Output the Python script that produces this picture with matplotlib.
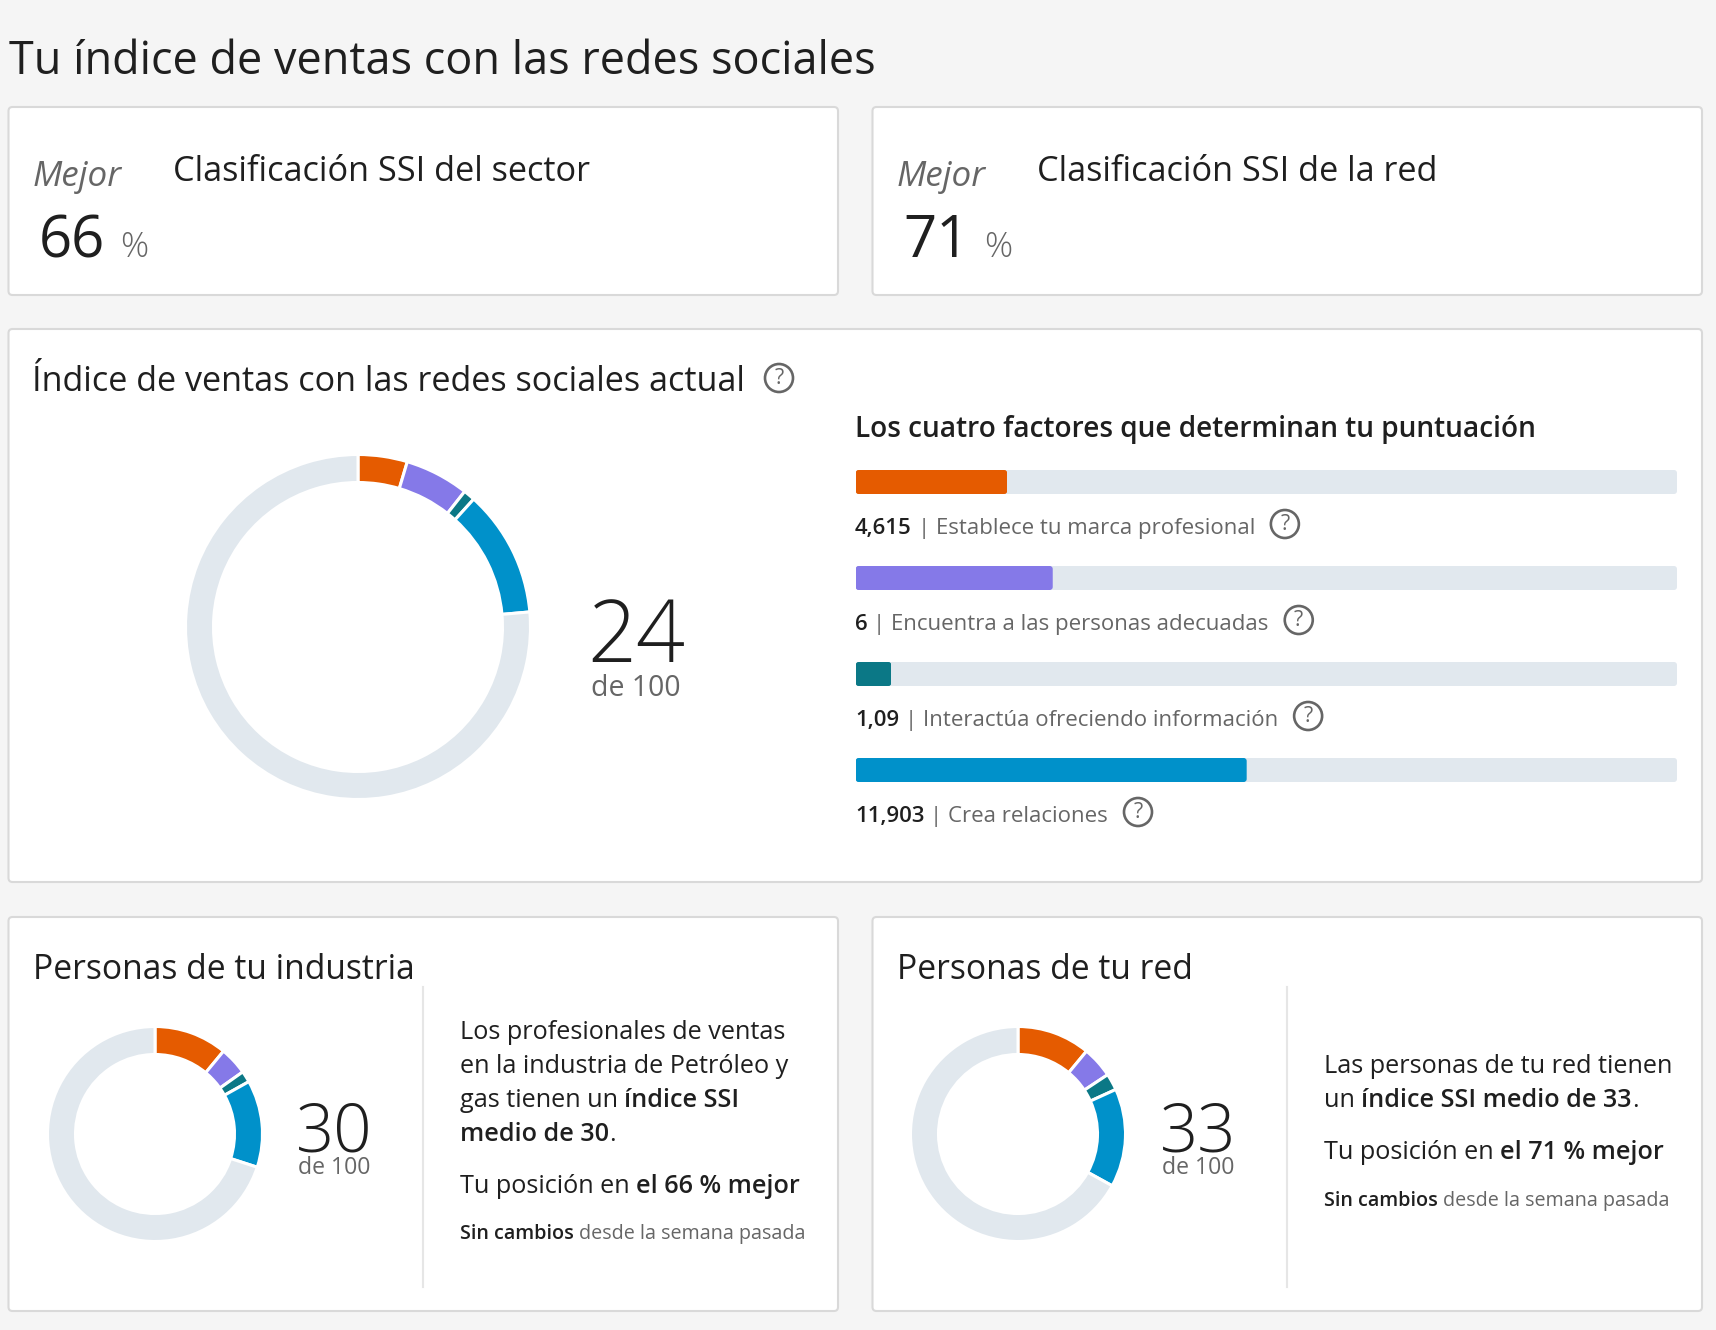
import matplotlib
matplotlib.use("Agg")
import matplotlib.pyplot as plt
from matplotlib.patches import FancyBboxPatch, Circle

W, H = 1716, 1330
FONT = "Open Sans"
BG = "#F5F5F5"
INK = "#1F1F1F"
GREY = "#666666"
TRACK = "#E1E8EE"
COLORS = ["#E55B00", "#8579E8", "#0B7886", "#0091CA"]
SEMI = 600

title = "Tu índice de ventas con las redes sociales"
main_heading = "Índice de ventas con las redes sociales actual"
factors_heading = "Los cuatro factores que determinan tu puntuación"
factor_names = ["Establece tu marca profesional", "Encuentra a las personas adecuadas",
                "Interactúa ofreciendo información", "Crea relaciones"]
factor_labels = ["4,615", "6", "1,09", "11,903"]
factor_values = [4.615, 6, 1.09, 11.903]
factor_max = 25
score_max = 100
main_score = 24
industry_values = [11, 4.2, 1.7, 13.1]
industry_score = 30
network_values = [11, 4.7, 2.5, 14.8]
network_score = 33
rank_sector = 66
rank_network = 71

fig = plt.figure(figsize=(W / 100, H / 100), dpi=100, facecolor=BG)
bg = fig.add_axes([0, 0, 1, 1])
bg.set_xlim(0, W)
bg.set_ylim(H, 0)
bg.axis("off")
renderer = fig.canvas.get_renderer()


def txt(x, y, s, px, color=INK, weight="normal", style="normal", ha="left"):
    return bg.text(x, y, s, fontsize=px * 0.72, color=color, fontweight=weight, fontstyle=style,
                   family=FONT, ha=ha, va="baseline")


def width(s, px, weight):
    t = bg.text(0, 0, "|" + s + "|", fontsize=px * 0.72, fontweight=weight, family=FONT)
    a = t.get_window_extent(renderer).width
    t.set_text("||")
    b = t.get_window_extent(renderer).width
    t.remove()
    return a - b


def rich(x, y, parts, px):
    for s, weight, color in parts:
        lead = len(s) - len(s.lstrip())
        txt(x + (width(s[:lead], px, weight) if lead else 0), y, s.strip(), px, color, weight)
        x += width(s, px, weight)
    return x


def card(x0, y0, x1, y1):
    bg.add_patch(FancyBboxPatch((x0 + 3, y0 + 3), x1 - x0 - 6, y1 - y0 - 6,
                                boxstyle="round,pad=3,rounding_size=4",
                                fc="white", ec="#D9D9D9", lw=1.5))


def help_icon(cx, cy):
    bg.add_patch(Circle((cx, cy), 14, fc="none", ec=GREY, lw=1.9))
    bg.text(cx, cy + 0.5, "?", fontsize=15.5, color=GREY, family=FONT, ha="center", va="center")


def donut(cx, cy, R, ring, values, total):
    R_draw = R + 1.5
    ax = fig.add_axes([(cx - R_draw - 2) / W, 1 - (cy + R_draw + 2) / H,
                       (2 * R_draw + 4) / W, (2 * R_draw + 4) / H])
    rest = total - sum(values)
    ax.pie(list(values) + [rest], colors=COLORS + [TRACK], startangle=90, counterclock=False,
           radius=1, wedgeprops=dict(width=(ring + 3) / R_draw, edgecolor="white", linewidth=2.2))
    m = (R_draw + 2) / R_draw
    ax.set_xlim(-m, m)
    ax.set_ylim(-m, m)
    ax.set_aspect("equal")
    ax.patch.set_visible(False)


# Cards
card(8.5, 107, 838, 295)
card(872.5, 107, 1702, 295)
card(8.5, 329, 1702, 882)
card(8.5, 917, 838, 1311)
card(872.5, 917, 1702, 1311)

txt(9, 74, title, 45)

# Rank cards
for dx, head, rank in [(0, "Clasificación SSI del sector", rank_sector),
                       (864, "Clasificación SSI de la red", rank_network)]:
    txt(33 + dx, 186, "Mejor", 35, GREY, style="italic")
    txt(173 + dx, 181, head, 34.3)
    txt(39 + dx, 257, str(rank), 58, INK, "normal")
    txt(120 + dx, 257, "%", 35, GREY, "light")

# Main card
txt(32, 391, main_heading, 34.1)
help_icon(779, 378)
donut(358, 627, 171, 25, factor_values, score_max)
txt(636, 662, str(main_score), 86, INK, "light", ha="center")
txt(636, 696, "de 100", 28.5, GREY, ha="center")

txt(855, 437, factors_heading, 28, INK, SEMI)
ax = fig.add_axes([855.6 / W, 1 - 782 / H, (1677 - 855.6) / W, (782 - 470) / H])
ypos = list(range(len(factor_values)))
track_bars = ax.barh(ypos, [factor_max] * len(ypos), height=0.25, color=TRACK)
value_bars = ax.barh(ypos, factor_values, height=0.25, color=COLORS)
ax.set_xlim(0, factor_max)
ax.set_ylim(3.125, -0.125)
ax.axis("off")
# small rounded corners on every bar, as in the reference
corner = 3 * factor_max / (1677 - 855.6)
aspect = (3.25 / 312) / (factor_max / (1677 - 855.6))
for bar in list(track_bars) + list(value_bars):
    bar.set_clip_path(FancyBboxPatch((bar.get_x(), bar.get_y()), bar.get_width(), bar.get_height(),
                                     boxstyle=f"round,pad=0,rounding_size={corner}",
                                     mutation_aspect=aspect, transform=ax.transData))

for i, (lab, name) in enumerate(zip(factor_labels, factor_names)):
    y = 534 + 96 * i
    end = rich(855, y, [(lab, SEMI, INK), (" | " + name, "normal", GREY)], 22.3)
    help_icon(end + 30, y - 10)

# Bottom cards
txt(33, 979, "Personas de tu industria", 33.6)
txt(897, 979, "Personas de tu red", 33.6)
for x in (422.5, 1287):
    bg.plot([x, x], [987, 1287], color="#E6E6E6", lw=1.5)

donut(155, 1134, 106, 25, industry_values, score_max)
donut(1018, 1134, 106, 25, network_values, score_max)
txt(334.5, 1152, str(industry_score), 67, INK, "light", ha="center")
txt(334.5, 1174, "de 100", 23, GREY, ha="center")
txt(1198, 1152, str(network_score), 67, INK, "light", ha="center")
txt(1198, 1174, "de 100", 23, GREY, ha="center")

P = 25.3
txt(460, 1039, "Los profesionales de ventas", P)
txt(460, 1073, "en la industria de Petróleo y", P)
rich(460, 1107, [("gas tienen un ", "normal", INK), ("índice SSI", SEMI, INK)], P)
rich(460, 1141, [("medio de 30", SEMI, INK), (".", "normal", INK)], P)
rich(460, 1193, [("Tu posición en ", "normal", INK), ("el 66 % mejor", SEMI, INK)], P)
rich(460, 1239, [("Sin cambios", SEMI, INK), (" desde la semana pasada", "normal", GREY)], 19.8)

txt(1324, 1073, "Las personas de tu red tienen", P)
rich(1324, 1107, [("un ", "normal", INK), ("índice SSI medio de 33", SEMI, INK), (".", "normal", INK)], P)
rich(1324, 1159, [("Tu posición en ", "normal", INK), ("el 71 % mejor", SEMI, INK)], P)
rich(1324, 1206, [("Sin cambios", SEMI, INK), (" desde la semana pasada", "normal", GREY)], 19.8)

fig.savefig("out.png", dpi=100, facecolor=BG)
